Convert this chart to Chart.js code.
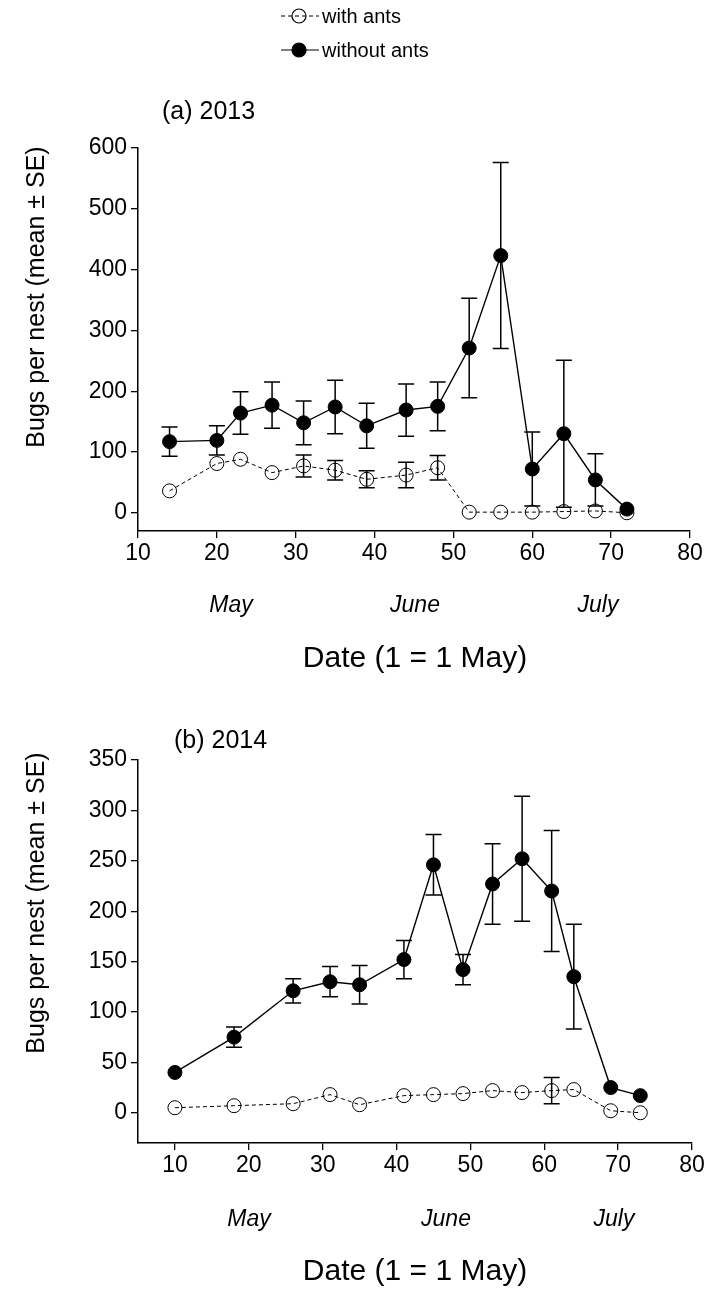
<!DOCTYPE html>
<html>
<head>
<meta charset="utf-8">
<script src="https://cdn.jsdelivr.net/npm/chart.js@4.4.0/dist/chart.umd.min.js"></script>
<style>
  body { margin: 0; background: #fff; }
  #wrap { position: relative; width: 719px; height: 1292px; }
  canvas { position: absolute; left: 0; }
  #chart2013 { top: 0; }
  #chart2014 { top: 700px; }
</style>
</head>
<body>
<div id="wrap">
  <canvas id="chart2013" width="719" height="700"></canvas>
  <canvas id="chart2014" width="719" height="592"></canvas>
</div>
<script>
// ===== Data =====
const seriesNames = ["with ants", "without ants"];
const monthNames = ["May", "June", "July"];

// (a) 2013
const days2013 = [14, 20, 23, 27, 31, 35, 39, 44, 48, 52, 56, 60, 64, 68, 72];
const withAnts2013 = [36, 81, 88, 66, 77, 70, 55, 62, 74, 1, 1, 1, 2, 3, 0];
const withAntsSE2013 = [4, 8, 6, 5, 18, 16, 14, 21, 20, 1, 1, 1, 2, 5, 1];
const withoutAnts2013 = [117, 119, 164, 177, 148, 174, 143, 169, 175, 271, 423, 72, 130, 54, 6];
const withoutAntsSE2013 = [24, 24, 35, 38, 36, 44, 37, 43, 40, 82, 153, 61, 121, 43, 3];
const xTicks2013 = [10, 20, 30, 40, 50, 60, 70, 80];
const yTicks2013 = [0, 100, 200, 300, 400, 500, 600];

// (b) 2014
const days2014 = [10, 18, 26, 31, 35, 41, 45, 49, 53, 57, 61, 64, 69, 73];
const withAnts2014 = [5, 7, 9, 18, 8, 17, 18, 19, 22, 20, 22, 23, 2, 0];
const withAntsSE2014 = [2, 2, 2, 3, 2, 3, 3, 3, 3, 3, 13, 3, 2, 1];
const withoutAnts2014 = [40, 75, 121, 130, 127, 152, 246, 142, 227, 252, 220, 135, 25, 17];
const withoutAntsSE2014 = [3, 10, 12, 15, 19, 19, 30, 15, 40, 62, 60, 52, 3, 3];
const xTicks2014 = [10, 20, 30, 40, 50, 60, 70, 80];
const yTicks2014 = [0, 50, 100, 150, 200, 250, 300, 350];

const FONT = "'Liberation Sans', Arial, sans-serif";
const MARKER_R = 7;

function points(days, vals) {
  return days.map((d, i) => ({ x: d, y: vals[i] }));
}

// ===== Error bars (drawn from the chart scales) =====
const errorBars = {
  id: "errorBars",
  beforeDatasetsDraw(chart) {
    const { ctx, scales: { x, y } } = chart;
    ctx.save();
    ctx.strokeStyle = "#000";
    ctx.lineWidth = 1.5;
    chart.data.datasets.forEach(ds => {
      ds.data.forEach((p, i) => {
        const se = ds.se[i];
        const px = x.getPixelForValue(p.x);
        const top = y.getPixelForValue(p.y + se);
        const bot = y.getPixelForValue(p.y - se);
        // bars that sit inside the marker are hidden in the figure
        if ((bot - top) / 2 <= MARKER_R) return;
        ctx.beginPath();
        ctx.moveTo(px, top); ctx.lineTo(px, bot);
        ctx.moveTo(px - 8, top); ctx.lineTo(px + 8, top);
        ctx.moveTo(px - 8, bot); ctx.lineTo(px + 8, bot);
        ctx.stroke();
      });
    });
    ctx.restore();
  }
};

// ===== Titles, month labels, legend =====
const annotations = {
  id: "annotations",
  afterDraw(chart, args, opts) {
    const ctx = chart.ctx;
    ctx.save();
    ctx.fillStyle = "#000";
    ctx.textBaseline = "middle";

    ctx.textAlign = "left";
    ctx.font = `25px ${FONT}`;
    ctx.fillText(opts.panel, opts.panelX, opts.panelY);

    ctx.textAlign = "center";
    ctx.font = `italic 23px ${FONT}`;
    monthNames.forEach((m, i) => ctx.fillText(m, opts.monthX[i], opts.monthY));

    ctx.font = `30px ${FONT}`;
    ctx.fillText("Date (1 = 1 May)", opts.dateX, opts.dateY);

    ctx.save();
    ctx.translate(opts.yTitleX, opts.yTitleY);
    ctx.rotate(-Math.PI / 2);
    ctx.font = `25px ${FONT}`;
    ctx.fillText("Bugs per nest (mean \u00b1 SE)", 0, 0);
    ctx.restore();

    if (opts.legend) {
      const rows = [
        { label: seriesNames[0], y: 16, dash: [4, 3], fill: "rgba(0,0,0,0)" },
        { label: seriesNames[1], y: 50, dash: [], fill: "#000" }
      ];
      rows.forEach(r => {
        ctx.strokeStyle = "#000";
        ctx.lineWidth = 1.2;
        ctx.setLineDash(r.dash);
        ctx.beginPath();
        ctx.moveTo(281, r.y); ctx.lineTo(319, r.y);
        ctx.stroke();
        ctx.setLineDash([]);
        ctx.beginPath();
        ctx.arc(299, r.y, MARKER_R, 0, Math.PI * 2);
        ctx.fillStyle = r.fill;
        ctx.fill();
        ctx.stroke();
        ctx.fillStyle = "#000";
        ctx.textAlign = "left";
        ctx.font = `20px ${FONT}`;
        ctx.fillText(r.label, 322, r.y + 1);
      });
    }
    ctx.restore();
  }
};

function makeChart(id, cfg) {
  const datasets = [
    {
      label: seriesNames[1],
      data: points(cfg.days, cfg.without),
      se: cfg.withoutSE,
      borderColor: "#000",
      borderWidth: 1.4,
      pointRadius: MARKER_R,
      pointBackgroundColor: "#000",
      pointBorderColor: "#000",
      pointBorderWidth: 1,
      tension: 0
    },
    {
      label: seriesNames[0],
      data: points(cfg.days, cfg.withA),
      se: cfg.withSE,
      borderColor: "#000",
      borderWidth: 1,
      borderDash: [4, 3],
      pointRadius: MARKER_R,
      pointBackgroundColor: "rgba(0,0,0,0)",
      pointBorderColor: "#000",
      pointBorderWidth: 1,
      tension: 0
    }
  ];

  return new Chart(document.getElementById(id), {
    type: "line",
    data: { datasets },
    plugins: [errorBars, annotations],
    options: {
      responsive: false,
      animation: false,
      clip: false,
      layout: { padding: cfg.padding },
      plugins: {
        legend: { display: false },
        tooltip: { enabled: false },
        annotations: cfg.text
      },
      scales: {
        x: {
          type: "linear",
          min: cfg.xMin,
          max: 80,
          afterBuildTicks: s => { s.ticks = cfg.xTicks.map(v => ({ value: v })); },
          afterFit: s => { s.height = 45; },
          grid: { drawOnChartArea: false, tickLength: 7, color: "#000", lineWidth: 1.3 },
          border: { color: "#000", width: 1.5 },
          ticks: { color: "#000", font: { family: FONT, size: 23 }, padding: 2, maxRotation: 0, autoSkip: false }
        },
        y: {
          min: -30,
          max: cfg.yMax,
          afterBuildTicks: s => { s.ticks = cfg.yTicks.map(v => ({ value: v })); },
          afterFit: s => { s.width = 60; },
          grid: { drawOnChartArea: false, tickLength: 7, color: "#000", lineWidth: 1.3 },
          border: { color: "#000", width: 1.5 },
          ticks: { color: "#000", font: { family: FONT, size: 23 }, padding: 4 }
        }
      }
    }
  });
}

makeChart("chart2013", {
  days: days2013,
  withA: withAnts2013, withSE: withAntsSE2013,
  without: withoutAnts2013, withoutSE: withoutAntsSE2013,
  xMin: 10, xTicks: xTicks2013,
  yMax: 600, yTicks: yTicks2013,
  padding: { left: 78, right: 29, top: 148, bottom: 124 },
  text: {
    panel: "(a) 2013", panelX: 162, panelY: 112,
    monthX: [231, 415, 598], monthY: 606,
    dateX: 415, dateY: 659,
    yTitleX: 37, yTitleY: 297,
    legend: true
  }
});

makeChart("chart2014", {
  days: days2014,
  withA: withAnts2014, withSE: withAntsSE2014,
  without: withoutAnts2014, withoutSE: withoutAntsSE2014,
  xMin: 5, xTicks: xTicks2014,
  yMax: 350, yTicks: yTicks2014,
  padding: { left: 78, right: 27, top: 60, bottom: 104 },
  text: {
    panel: "(b) 2014", panelX: 174, panelY: 41,
    monthX: [249, 446, 614], monthY: 520,
    dateX: 415, dateY: 572,
    yTitleX: 37, yTitleY: 203,
    legend: false
  }
});
</script>
</body>
</html>
